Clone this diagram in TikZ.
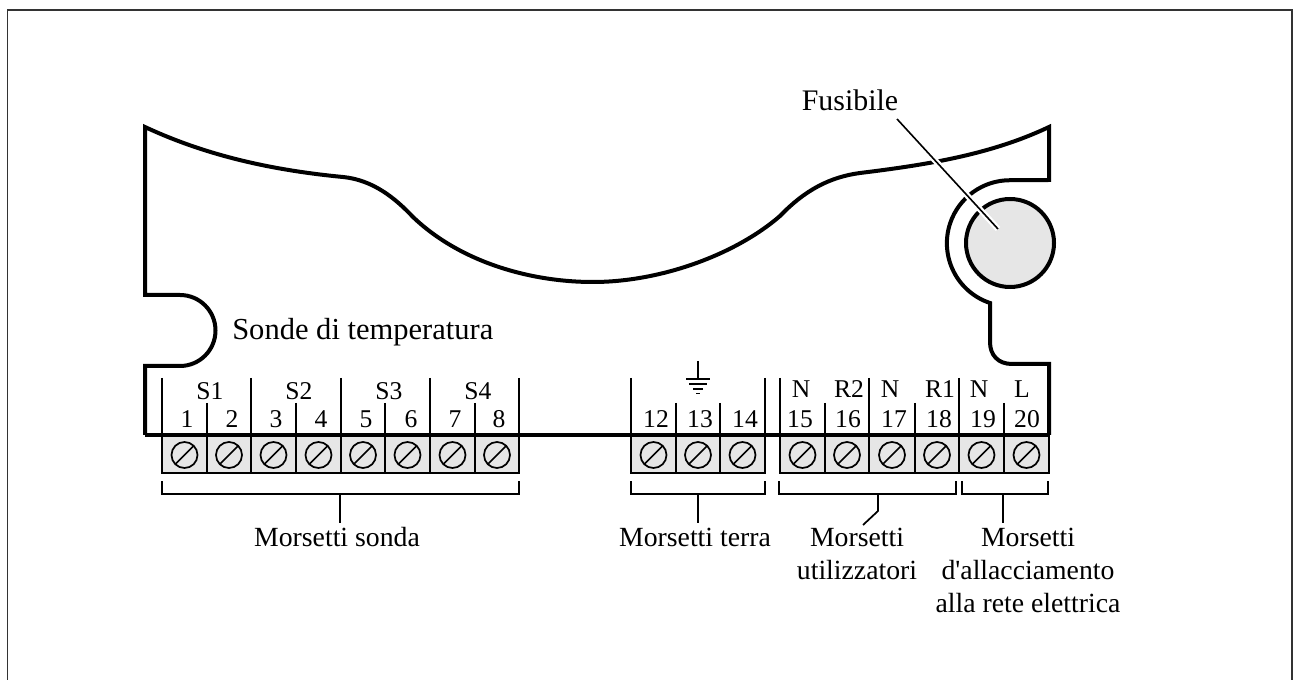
\documentclass[tikz,border=0pt]{standalone}
\usepackage{fontspec}
\setmainfont{Liberation Serif}
\definecolor{termgray}{HTML}{E6E6E6}
\definecolor{framegray}{HTML}{333333}
\tikzset{
  x=0.75pt,y=0.75pt,
  outline/.style={line width=3pt,line join=miter,black},
  thinline/.style={line width=1.3pt,black},
  leader/.style={line width=1.2pt,black},
  term/.style={draw=black,line width=1.3pt,fill=termgray},
  lab/.style={font=\fontsize{20.8}{24}\selectfont,inner sep=0pt,anchor=base},
  biglab/.style={font=\fontsize{22.4}{26}\selectfont,inner sep=0pt,anchor=base},
  sonlab/.style={font=\fontsize{22.9}{26}\selectfont,inner sep=0pt,anchor=base west},
  numlab/.style={font=\fontsize{19.2}{22}\selectfont,inner sep=0pt,anchor=base},
}
\begin{document}
\begin{tikzpicture}
\useasboundingbox (0,0) rectangle (1295,-680);
\draw[line width=1.1pt,framegray] (7.5,-680) -- (7.5,-10) -- (1292,-10) -- (1292,-680);
% terminal blocks
\foreach \a/\b in {162/207,207/251,251/296,296/341,341/385,385/430,430/475,475/519,631/676,676/720,720/765,780/825,825/869,869/915,915/959,959/1004,1004/1049}{
  \draw[term] (\a,-435) rectangle (\b,-473);
  \pgfmathsetmacro{\c}{(\a+\b)/2}
  \draw[line width=1.3pt] (\c,-455) circle[radius=13];
  \draw[line width=1.3pt] ({\c-9.2},-464.2) -- ({\c+9.2},-445.8);
}
% ticks
\foreach \x in {162,251,341,430,519,631,765,780,869,959}{\draw[thinline] (\x,-378) -- (\x,-435);}
\foreach \x in {207,296,385,475,676,720,825,915,1004}{\draw[thinline] (\x,-403) -- (\x,-435);}
% outline
\draw[outline] (145,-435) -- (1049,-435);
\draw[outline] (1049,-435) -- (1049,-364) -- (1012,-364) .. controls (998,-364) and (990,-355) .. (990,-342) -- (990,-303)
  arc[start angle=251.6,end angle=90,radius=63] -- (1049,-180) -- (1049,-127)
  .. controls (990,-155) and (925,-165) .. (860,-173)
  .. controls (830,-177) and (805,-190) .. (780,-216)
  .. controls (735,-255) and (660,-282) .. (593,-282)
  .. controls (530,-282) and (460,-262) .. (413,-217)
  .. controls (395,-198) and (373,-180) .. (343,-177)
  .. controls (270,-170) and (205,-155) .. (145,-127)
  -- (145,-295) -- (180,-295) arc[start angle=90,end angle=-90,radius=35.5] -- (145,-366) -- (145,-435);
% fuse
\draw[outline,fill=termgray] (1010,-243) circle[radius=44];
\coordinate (fstart) at (897,-119);
\coordinate (fend) at (998,-229);
\draw[white,line width=4.5pt] (fstart) -- (fend);
\draw[leader] (fstart) -- (fend);
% earth symbol
\draw[thinline] (698,-361) -- (698,-379);
\draw[thinline] (686,-379) -- (710,-379);
\draw[thinline] (689,-384) -- (707,-384);
\draw[thinline] (693,-389) -- (703,-389);
\draw[thinline] (696,-393.5) -- (700,-393.5);
% brackets
\draw[thinline] (162,-481) -- (162,-494) -- (519,-494) -- (519,-481);
\draw[thinline] (631,-481) -- (631,-494) -- (765,-494) -- (765,-481);
\draw[thinline] (779,-481) -- (779,-494) -- (956,-494) -- (956,-481);
\draw[thinline] (962,-481) -- (962,-494) -- (1048,-494) -- (1048,-481);
\draw[thinline] (340,-494) -- (340,-523);
\draw[thinline] (698,-494) -- (698,-523);
\draw[thinline] (878,-494) -- (878,-511) -- (863,-525);
\draw[thinline] (1003,-494) -- (1003,-523);
% labels
\node[biglab] (fus) at (850,-111) {Fusibile};
\node[sonlab] (sonde) at (232,-340) {Sonde di temperatura};
\foreach \x/\t in {187/1,232/2,276/3,321/4,366/5,411/6,455/7,499/8,656/12,700/13,745/14,800/15,848/16,894/17,939/18,983/19,1027/20}{
  \node[numlab] at (\x,-428) {\t};}
\foreach \x/\t in {210/S1,299/S2,389/S3,478/S4}{\node[numlab] at (\x,-400) {\t};}
\foreach \x/\t in {801/N,849/R2,890/N,940/R1,979/N,1022/L}{\node[numlab] at (\x,-398) {\t};}
\node[lab] (ms) at (337,-546) {Morsetti sonda};
\node[lab] (mt) at (695,-546) {Morsetti terra};
\node[lab] (mu1) at (857,-546) {Morsetti};
\node[lab] (mu2) at (857,-579) {utilizzatori};
\node[lab] (mr1) at (1028,-546) {Morsetti};
\node[lab] (mr2) at (1028,-579) {d\textquotesingle allacciamento};
\node[lab] (mr3) at (1028,-612) {alla rete elettrica};
\end{tikzpicture}
\end{document}
